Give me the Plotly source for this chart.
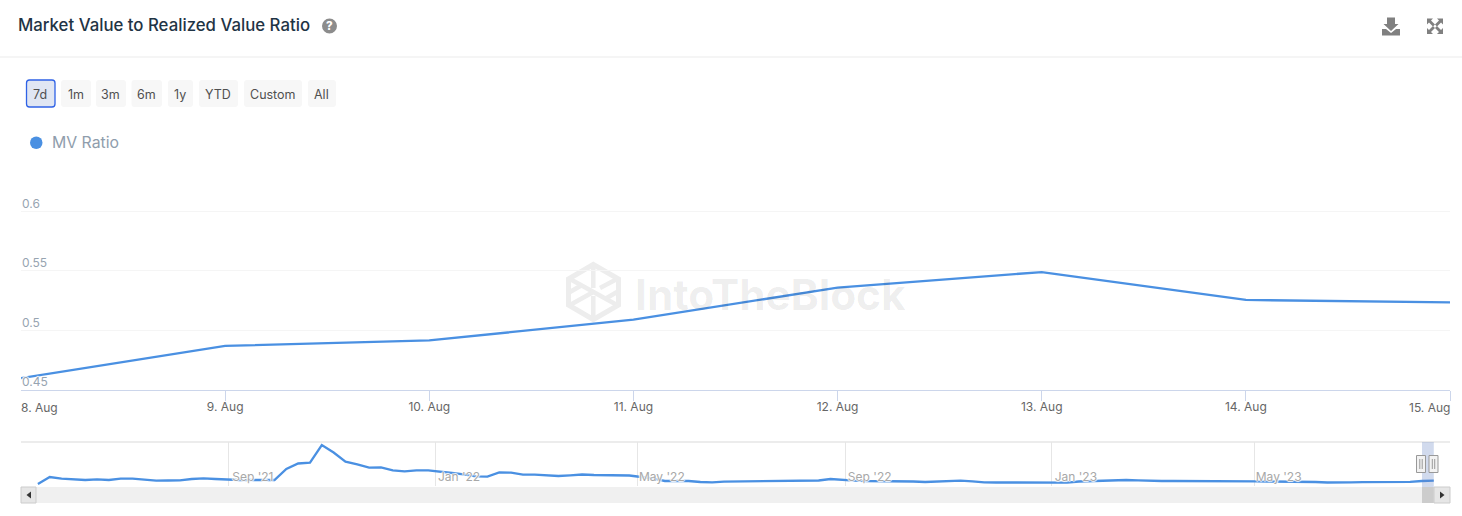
import pandas as pd
import plotly.graph_objects as go
from plotly.subplots import make_subplots

W, H = 1462, 516
FONT = "Inter"

# ---- data -------------------------------------------------------------
series_name = "MV Ratio"
main_dates = ["2023-08-08", "2023-08-09", "2023-08-10", "2023-08-11",
              "2023-08-12", "2023-08-13", "2023-08-14", "2023-08-15"]
main_values = [0.460, 0.487, 0.4916, 0.509, 0.536, 0.549, 0.5256, 0.5235]
main_labels = ["8. Aug", "9. Aug", "10. Aug", "11. Aug", "12. Aug", "13. Aug", "14. Aug", "15. Aug"]
y_ticks = [0.45, 0.5, 0.55, 0.6]
y_labels = ["0.45", "0.5", "0.55", "0.6"]

nav_start = "2021-05-11"
nav_values = [
    .358, .709, .624, .609, .559, .594, .559, .624, .624, .574,
    .524, .534, .544, .609, .644, .609, .574, .559, .559, .574,
    .559, 1.109, 1.384, 1.424, 2.309, 1.934, 1.474, 1.344, 1.174, 1.194,
    1.044, .994, 1.044, 1.044, .959, .909, .844, .744, .724, .934,
    .924, .824, .824, .774, .759, .794, .834, .809, .809, .809,
    .784, .709, .634, .509, .509, .509, .459, .444, .474, .484,
    .494, .499, .509, .519, .524, .524, .534, .609, .559, .529,
    .509, .509, .509, .509, .484, .459, .474, .494, .524, .494,
    .444, .434, .434, .434, .444, .444, .434, .429, .484, .509,
    .524, .544, .559, .544, .519, .509, .509, .509, .519, .524,
    .524, .519, .509, .494, .484, .484, .469, .484, .459, .434,
    .424, .444, .449, .449, .459, .459, .469, .509, .524,
]
nav_tick_dates = ["2021-09-01", "2022-01-01", "2022-05-01", "2022-09-01", "2023-01-01", "2023-05-01"]
nav_tick_labels = ["Sep '21", "Jan '22", "May '22", "Sep '22", "Jan '23", "May '23"]
range_buttons = ["7d", "1m", "3m", "6m", "1y", "YTD", "Custom", "All"]

# ---- colours ----------------------------------------------------------
BLUE = "#4a90e2"
HALO = "-1px 0 1px #fff, 1px 0 1px #fff, 0 -1px 1px #fff, 0 1px 1px #fff"

def px(x): return x / W
def py(y): return 1 - y / H

def P(points, close=True):
    s = "M " + " L ".join(f"{px(x):.5f} {py(y):.5f}" for x, y in points)
    return s + (" Z" if close else "")

def rrect(x0, y0, x1, y1, r):
    a, b = px, py
    return (f"M {a(x0+r):.5f} {b(y0):.5f} L {a(x1-r):.5f} {b(y0):.5f} Q {a(x1):.5f} {b(y0):.5f} {a(x1):.5f} {b(y0+r):.5f} "
            f"L {a(x1):.5f} {b(y1-r):.5f} Q {a(x1):.5f} {b(y1):.5f} {a(x1-r):.5f} {b(y1):.5f} "
            f"L {a(x0+r):.5f} {b(y1):.5f} Q {a(x0):.5f} {b(y1):.5f} {a(x0):.5f} {b(y1-r):.5f} "
            f"L {a(x0):.5f} {b(y0+r):.5f} Q {a(x0):.5f} {b(y0):.5f} {a(x0+r):.5f} {b(y0):.5f} Z")

shapes, notes = [], []

def path(d, fill="rgba(0,0,0,0)", line=None, lw=0, layer="above"):
    shapes.append(dict(type="path", xref="paper", yref="paper", path=d, fillcolor=fill,
                       line=dict(color=line or "rgba(0,0,0,0)", width=lw), layer=layer))

def rect(x0, y0, x1, y1, fill, line=None, lw=0, layer="above"):
    shapes.append(dict(type="rect", xref="paper", yref="paper", x0=px(x0), x1=px(x1), y0=py(y0), y1=py(y1),
                       fillcolor=fill, line=dict(color=line or "rgba(0,0,0,0)", width=lw), layer=layer))

def text(x, y, s, size, color, anchor="left", weight=400, family=FONT):
    notes.append(dict(xref="paper", yref="paper", x=px(x), y=py(y), text=s, showarrow=False,
                      xanchor=anchor, yanchor="middle", xshift=0,
                      font=dict(family=family, size=size, color=color, weight=weight)))

# ---- figure -----------------------------------------------------------
fig = make_subplots(rows=2, cols=1)
fig.add_trace(go.Scatter(x=main_dates, y=main_values, mode="lines", showlegend=False,
                         line=dict(color=BLUE, width=2.3), name=series_name), row=1, col=1)
nav_dates = pd.date_range(nav_start, periods=len(nav_values), freq="7D")
fig.add_trace(go.Scatter(x=nav_dates, y=nav_values, mode="lines", showlegend=False,
                         line=dict(color=BLUE, width=2.3), name=series_name), row=2, col=1)

# ---- header -----------------------------------------------------------
rect(0, 56.6, W, 57.6, "#ececec")
text(15.5, 25.5, "Market Value to Realized Value Ratio", 16.8, "#1f3445", weight=500)
shapes.append(dict(type="circle", xref="paper", yref="paper", x0=px(322), x1=px(337), y0=py(33.5), y1=py(18.5),
                   fillcolor="#8c8c8c", line=dict(width=0)))
text(329.5, 26, "?", 11.5, "#ffffff", anchor="center", weight=800)

# download icon
path(P([(1387, 17.5), (1395, 17.5), (1395, 24), (1398.5, 24), (1391, 31), (1383.5, 24), (1387, 24)]), fill="#808080")
path(P([(1382, 29), (1386, 29), (1391, 33), (1396, 29), (1400, 29), (1400, 35.5), (1382, 35.5)]), fill="#808080")
# fullscreen icon
for cx, cy, sx, sy in [(1427, 18.5, 1, 1), (1443, 18.5, -1, 1), (1427, 34, 1, -1), (1443, 34, -1, -1)]:
    path(P([(cx, cy), (cx + 6 * sx, cy), (cx + 4 * sx, cy + 2 * sy), (cx + 8 * sx, cy + 6 * sy),
            (cx + 6 * sx, cy + 8 * sy), (cx + 2 * sx, cy + 4 * sy), (cx, cy + 6 * sy)]), fill="#808080")

# range buttons
spans = [(26.5, 55), (61, 91), (96, 126), (131.5, 162), (168, 193), (199, 238), (244, 302), (308, 336)]
for i, (label, (a, b)) in enumerate(zip(range_buttons, spans)):
    if i == 0:
        path(rrect(a, 80, b, 107, 3), fill="#e0e6f3", line="#2f62e6", lw=1.3)
    else:
        path(rrect(a, 80, b, 107, 3), fill="#f7f7f7")
    text((a + b) / 2 - 0.5, 94.5, label, 12.5, "#505050", anchor="center")

# legend dot and label
shapes.append(dict(type="circle", xref="paper", yref="paper", x0=px(30), x1=px(42.5), y0=py(149), y1=py(136.5),
                   fillcolor=BLUE, line=dict(width=0)))
text(49.5, 142, series_name, 15.8, "#8f9dac")

# watermark
WM = "#ededed"
hexa = [(593.3, 264.5), (618.5, 279), (618.5, 305), (593.3, 319.5), (568.5, 305), (568.5, 279)]
path(P(hexa), line=WM, lw=5, layer="below")
for seg in [[(570, 279), (617, 305)], [(593.3, 265), (593.3, 288)], [(593.3, 296), (593.3, 319)],
            [(570, 305), (593.3, 292)], [(617, 279), (600, 288)], [(570, 292), (582, 285)], [(617, 292), (605, 299)]]:
    path(P(seg, close=False), line=WM, lw=4.5, layer="below")
text(632.5, 294, "IntoTheBlock", 42.3, "rgba(0,0,0,0.075)", weight=700)

# end labels of the main x axis (first and last hug the plot edges)
notes.append(dict(xref="x", yref="paper", x=main_dates[0], y=py(407), text=main_labels[0], showarrow=False,
                  xanchor="left", yanchor="middle", xshift=-2, font=dict(family=FONT, size=12, color="#666666")))
notes.append(dict(xref="x", yref="paper", x=main_dates[-1], y=py(407), text=main_labels[-1], showarrow=False,
                  xanchor="right", yanchor="middle", xshift=2, font=dict(family=FONT, size=12, color="#666666")))

# ---- navigator chrome ---------------------------------------------------
rect(21, 441.2, 1450, 442.8, "#e6e6e6", layer="below")
rect(21, 487, 1450, 503, "#f0f0f0")
shapes.append(dict(type="rect", xref="x2", yref="paper", x0="2023-08-08", x1="2023-08-15", y0=py(442), y1=py(487),
                   fillcolor="rgba(102,133,194,0.3)", line=dict(width=0), layer="above"))
shapes.append(dict(type="rect", xref="x2", yref="paper", x0="2023-08-08", x1="2023-08-15", y0=py(487), y1=py(503),
                   fillcolor="#cccccc", line=dict(width=0), layer="above"))
rect(21, 487, 36, 503, "#e6e6e6", "#cccccc", 1)
path(P([(31, 491.5), (31, 498.5), (26.5, 495)]), fill="#333333")
rect(1434, 487, 1450, 503, "#e6e6e6", "#cccccc", 1)
path(P([(1440, 491.5), (1440, 498.5), (1444.5, 495)]), fill="#333333")
for a, b in [(1416.5, 1425.5), (1429, 1438)]:
    rect(a, 455.5, b, 472.5, "#f2f2f2", "#999999", 1)
    for dx in (3.3, 5.7):
        path(P([(a + dx, 459), (a + dx, 469)], close=False), line="#999999", lw=1)

# ---- layout -------------------------------------------------------------
fig.update_layout(
    width=W, height=H, margin=dict(l=0, r=0, t=0, b=0), autosize=False,
    paper_bgcolor="#ffffff", plot_bgcolor="rgba(0,0,0,0)",
    font=dict(family=FONT), shapes=shapes, annotations=notes, showlegend=False,
    hovermode=False,
    xaxis=dict(domain=[px(21), px(1450)], range=[main_dates[0], main_dates[-1]], type="date",
               tickmode="array", tickvals=main_dates, ticktext=[""] + main_labels[1:-1] + [""],
               ticks="outside", ticklen=10, tickwidth=1, tickcolor="#ccd6eb",
               showline=True, linecolor="#ccd6eb", linewidth=1, showgrid=False, zeroline=False,
               ticklabelstandoff=-4,
               tickfont=dict(family=FONT, size=12, color="#666666")),
    yaxis=dict(domain=[py(390), py(190)], range=[0.45, 0.6179], tickmode="array", tickvals=y_ticks, ticktext=y_labels,
               showgrid=True, gridcolor="#f5f5f5", gridwidth=1, zeroline=False, showline=False, ticks="",
               ticklabelposition="inside", ticklabelshift=-8, ticklabelstandoff=-2,
               tickfont=dict(family=FONT, size=12, color="#97a4b1", shadow=HALO)),
    xaxis2=dict(domain=[px(21), px(1450)], range=["2021-05-01", "2023-08-24 14:00"], type="date",
                tickmode="array", tickvals=nav_tick_dates, ticktext=nav_tick_labels,
                ticks="", showline=False, showgrid=True, gridcolor="#e6e6e6", gridwidth=1, zeroline=False,
                ticklabelposition="inside", ticklabelshift=24, ticklabelstandoff=0,
                tickfont=dict(family=FONT, size=12, color="#a8a8a8", shadow=HALO)),
    yaxis2=dict(domain=[py(486), py(442)], range=[0.2585, 2.4585], visible=False, showgrid=False, zeroline=False),
)

fig.write_html("out.html", config=dict(displayModeBar=False),
               post_script="document.body.style.margin='0';document.body.style.overflow='hidden';")
